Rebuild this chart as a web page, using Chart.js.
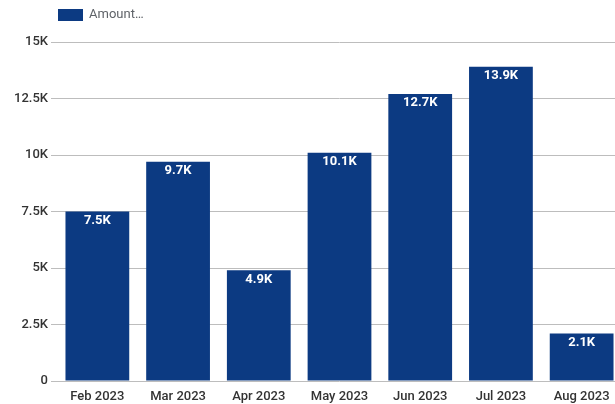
<!DOCTYPE html>
<html>
<head>
<meta charset="utf-8">
<script src="https://cdn.jsdelivr.net/npm/chart.js@4"></script>
<style>
  html, body { margin: 0; padding: 0; background: #fff; overflow: hidden; }
  #wrap { width: 622px; height: 404px; }
</style>
</head>
<body>
<div id="wrap"><canvas id="myChart"></canvas></div>
<script>
var months = ["Feb 2023", "Mar 2023", "Apr 2023", "May 2023", "Jun 2023", "Jul 2023", "Aug 2023"];
var amounts = [7500, 9700, 4900, 10100, 12700, 13900, 2100];
var yTicks = [0, 2500, 5000, 7500, 10000, 12500, 15000];
var yTickLabels = ["0", "2.5K", "5K", "7.5K", "10K", "12.5K", "15K"];
var seriesName = "Amount…";
var barColor = "#0c3a82";

function shortK(v) {
    return (v / 1000).toFixed(1) + "K";
}

// value labels inside the top of each bar, plus a small legend top-left
var barLabels = {
    id: 'barLabels',
    afterDatasetsDraw: function (chart) {
        var ctx = chart.ctx;
        var meta = chart.getDatasetMeta(0);
        ctx.save();
        ctx.font = "bold 13px Roboto, 'Open Sans', sans-serif";
        ctx.fillStyle = "#ffffff";
        ctx.textAlign = "center";
        ctx.textBaseline = "middle";
        meta.data.forEach(function (bar, i) {
            ctx.fillText(shortK(amounts[i]), bar.x, bar.y + 9);
        });

        // legend
        ctx.fillStyle = barColor;
        ctx.fillRect(58, 9, 25, 12);
        ctx.fillStyle = "#5f6368";
        ctx.font = "13px Roboto, 'Open Sans', sans-serif";
        ctx.textAlign = "left";
        ctx.fillText(seriesName, 89, 15);
        ctx.restore();
    }
};

var ctx = document.getElementById('myChart').getContext('2d');
var chart = new Chart(ctx, {
    type: 'bar',
    data: {
        labels: months,
        datasets: [{
            label: seriesName,
            backgroundColor: barColor,
            data: amounts,
            barPercentage: 0.79,
            categoryPercentage: 1.0
        }]
    },
    options: {
        responsive: true,
        maintainAspectRatio: false,
        animation: false,
        layout: { padding: { top: 42, left: 0, right: 0, bottom: 0 } },
        plugins: {
            legend: { display: false },
            tooltip: { enabled: false }
        },
        scales: {
            x: {
                afterFit: function (scale) { scale.height = 23; },
                grid: { display: false },
                border: { display: false },
                ticks: {
                    color: "#333333",
                    font: { family: "Roboto", size: 13, weight: '500' },
                    maxRotation: 0,
                    padding: 0
                }
            },
            y: {
                min: 0,
                max: 15000,
                afterFit: function (scale) { scale.width = 57; },
                afterBuildTicks: function (scale) {
                    scale.ticks = yTicks.map(function (v) { return { value: v }; });
                },
                grid: {
                    color: "#bdbdbd",
                    lineWidth: 1,
                    drawTicks: true,
                    tickLength: 6
                },
                border: { display: false },
                ticks: {
                    color: "#333333",
                    font: { family: "Roboto", size: 13, weight: '500' },
                    padding: 3,
                    callback: function (v) {
                        var i = yTicks.indexOf(v);
                        return i >= 0 ? yTickLabels[i] : "";
                    }
                }
            }
        }
    },
    plugins: [barLabels]
});
</script>
</body>
</html>
